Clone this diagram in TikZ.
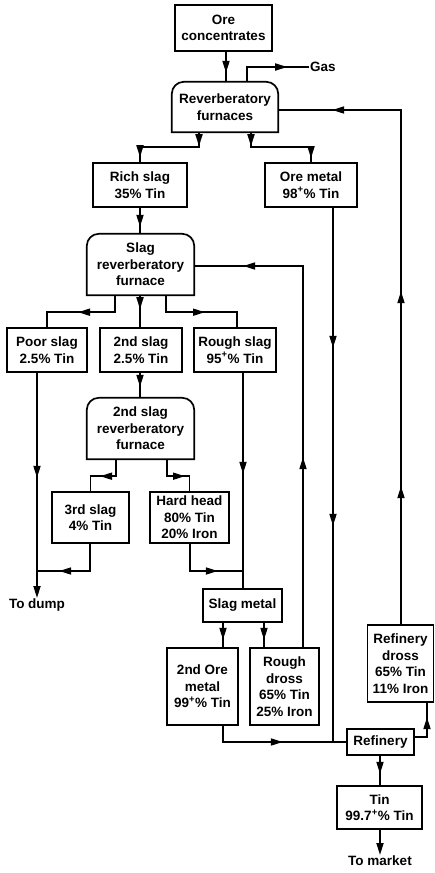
\documentclass[tikz,border=0pt]{standalone}
\usepackage{fontspec}
\setmainfont{Liberation Sans}
\usetikzlibrary{arrows.meta,decorations.markings}
\tikzset{tri/.tip={Triangle[length=12pt,width=7pt]}}
\newcommand\furnaceshape[1]{\draw[lw] (#1.south west) -- ([yshift=-12pt]#1.north west) arc[start angle=180,end angle=90,radius=12pt] -- ([xshift=-12pt]#1.north east) arc[start angle=90,end angle=0,radius=12pt] -- (#1.south east) -- cycle;}
\begin{document}
\begin{tikzpicture}[x=1pt,y=-1pt,
  lw/.style={line width=1.7pt},
  txt/.style={inner sep=0pt,align=center,font=\bfseries\fontsize{13.5}{16.5}\selectfont},
  box/.style={txt,lw,draw},
  furn/.style={txt},
  label/.style={inner sep=1pt,font=\bfseries\fontsize{13.5}{16.5}\selectfont},
  con/.style={lw},
  ar/.style={postaction={decorate,decoration={markings,mark=at position #1pt with {\arrow{tri}}}}},
  endar/.style={-{tri}},
]
\useasboundingbox (0,0) rectangle (435,873);

% nodes
\node[box,minimum width=97pt,minimum height=46pt] (ore) at (223.5,28) {Ore\\concentrates};
\node[furn,minimum width=106pt,minimum height=50pt] (rf) at (225,107) {Reverberatory\\furnaces};
\furnaceshape{rf}
\node[label,anchor=west] (gas) at (309,67) {Gas};
\node[box,minimum width=94pt,minimum height=44pt] (rich) at (140,185) {Rich slag\\35\% Tin};
\node[box,minimum width=92pt,minimum height=44pt] (oremetal) at (311,185) {Ore metal\\98\textsuperscript{+}\% Tin};
\node[furn,minimum width=107pt,minimum height=61pt] (srf) at (140.5,264.5) {Slag\\reverberatory\\furnace};
\furnaceshape{srf}
\node[box,minimum width=80pt,minimum height=44pt] (poor) at (47,350) {Poor slag\\2.5\% Tin};
\node[box,minimum width=82pt,minimum height=44pt] (second) at (141,350) {2nd slag\\2.5\% Tin};
\node[box,minimum width=82pt,minimum height=44pt] (rough) at (235,350) {Rough slag\\95\textsuperscript{+}\% Tin};
\node[furn,minimum width=107pt,minimum height=61pt] (srf2) at (140.5,428.5) {2nd slag\\reverberatory\\furnace};
\furnaceshape{srf2}
\node[box,minimum width=77pt,minimum height=51pt] (third) at (90.5,517.5) {3rd slag\\4\% Tin};
\node[box,minimum width=79pt,minimum height=51pt] (hard) at (189.5,517.5) {Hard head\\80\% Tin\\20\% Iron};
\node[label,anchor=north] (dump) at (37,598) {To dump};
\node[box,minimum width=79pt,minimum height=33pt] (slagmetal) at (242.5,605.5) {Slag metal};
\node[box,minimum width=71pt,minimum height=77pt] (ore2) at (202.5,686.5) {2nd Ore\\metal\\99\textsuperscript{+}\% Tin};
\node[box,minimum width=69pt,minimum height=77pt] (rdross) at (284.5,686.5) {Rough\\dross\\65\% Tin\\25\% Iron};
\node[box,minimum width=66pt,minimum height=77pt] (refdross) at (400.5,663.5) {Refinery\\dross\\65\% Tin\\11\% Iron};
\node[box,minimum width=67pt,minimum height=26pt] (refinery) at (380.5,742) {Refinery};
\node[box,minimum width=85pt,minimum height=43pt] (tin) at (379.5,807.5) {Tin\\99.7\textsuperscript{+}\% Tin};
\node[label,anchor=north] (market) at (380,855) {To market};
\coordinate (j1) at (37,571);
\coordinate (j2) at (243,571);

% connectors
\draw[con,ar=21] (226,0 |- ore.south) -- (226,0 |- rf.north);
\draw[con,ar=55] (247,0 |- rf.north) |- (gas.west);
\draw[con,ar=14,ar=84] (199,0 |- rf.south) -- ++(0,15) -| (rich.north);
\draw[con,ar=14,ar=86] (251,0 |- rf.south) -- ++(0,15) -| (oremetal.north);
\draw[con,ar=140,ar=318] (333,0 |- oremetal.south) -- (333,0 |- refinery.west);
\draw[con,ar=19] (rich.south) -- (140,0 |- srf.north);
\draw[con,ar=190,ar=441] (303,0 |- rdross.north) |- ([yshift=-1.5pt]srf.east);
\draw[con,ar=54] (115,0 |- srf.south) -- ++(0,17) -| (poor.north);
\draw[con,ar=14] (140,0 |- srf.south) -- (140,0 |- second.north);
\draw[con,ar=56] (166,0 |- srf.south) -- ++(0,17) -| (237,0 |- rough.north);
\draw[con,ar=14] (140,0 |- second.south) -- (140,0 |- srf2.north);
\draw[con,ar=33] (116,0 |- srf2.south) -- ++(0,17) -| (third.north);
\draw[con,ar=35] (167,0 |- srf2.south) -- ++(0,17) -| (hard.north);
\draw[con,ar=105,endar] (37,0 |- poor.south) -- (dump.north);
\draw[con,ar=58] (90,0 |- third.south) |- (j1);
\draw[con,ar=101] (243,0 |- rough.south) -- (243,0 |- slagmetal.north);
\draw[con,ar=55] (190,0 |- hard.south) |- (j2);
\draw[con,ar=17] (223,0 |- slagmetal.south) -- (223,0 |- ore2.north);
\draw[con,ar=17] (264,0 |- slagmetal.south) -- (264,0 |- rdross.north);
\draw[con,ar=76] (223,0 |- ore2.south) |- (refinery.west);
\draw[con,ar=32] ([yshift=5pt]refinery.east) -| (427,0 |- refdross.south);
\draw[con,ar=138,ar=333,ar=583] (401,0 |- refdross.north) |- ([yshift=-3pt]rf.east);
\draw[con,ar=18] (380,0 |- refinery.south) -- (380,0 |- tin.north);
\draw[con,endar] (380,0 |- tin.south) -- (market.north);
\end{tikzpicture}
\end{document}
